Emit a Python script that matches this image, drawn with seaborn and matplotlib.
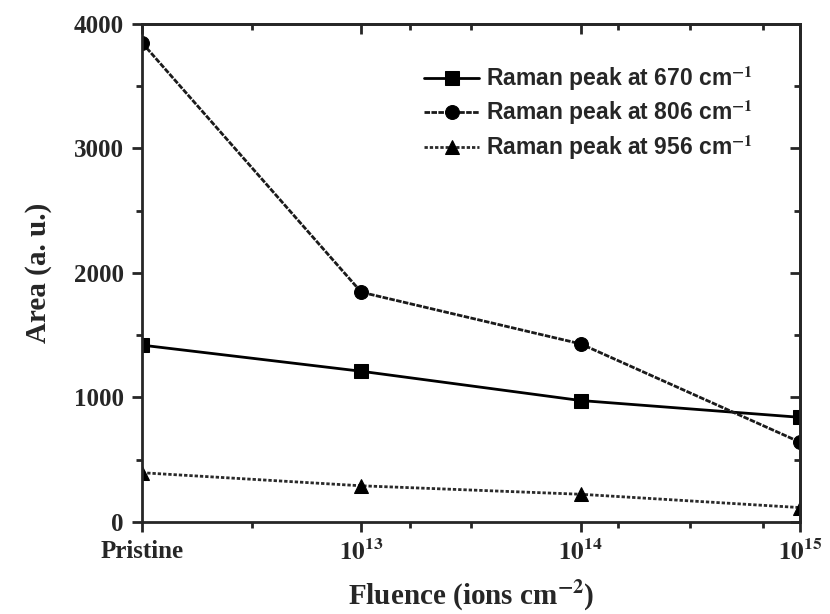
import pandas as pd
import seaborn as sns
import matplotlib.pyplot as plt
from matplotlib.ticker import MultipleLocator, FixedLocator, NullFormatter

fluence = ["Pristine", r"$\mathbf{10^{13}}$", r"$\mathbf{10^{14}}$", r"$\mathbf{10^{15}}$"]
peak_670 = [1420, 1210, 975, 840]
peak_806 = [3850, 1845, 1430, 640]
peak_956 = [395, 290, 222, 115]
series = [r"Raman peak at 670 cm$^{\mathbf{-1}}$",
          r"Raman peak at 806 cm$^{\mathbf{-1}}$",
          r"Raman peak at 956 cm$^{\mathbf{-1}}$"]


def build_frame():
    rows = []
    for name, vals in zip(series, [peak_670, peak_806, peak_956]):
        for i, v in enumerate(vals):
            rows.append({"x": i, "Area": v, "peak": name})
    return pd.DataFrame(rows)


def main():
    sns.set_theme(style="ticks")
    plt.rcParams['font.family'] = ['Liberation Serif', 'DejaVu Serif']
    plt.rcParams['mathtext.fontset'] = 'stix'

    data = build_frame()
    fig = plt.figure(figsize=(8.3, 6.14), dpi=100)
    ax = fig.add_axes([0.171, 0.150, 0.793, 0.811])

    markers = dict(zip(series, ["s", "o", "^"]))
    dashes = dict(zip(series, ["", (2, 0.5), (1.2, 0.7)]))
    palette = dict(zip(series, ["black", "#1a1a1a", "#2a2a2a"]))
    sns.lineplot(data=data, x="x", y="Area", hue="peak", style="peak",
                 markers=markers, dashes=dashes, palette=palette,
                 markersize=10, linewidth=2, markeredgecolor="black",
                 markerfacecolor="black", ax=ax)
    # markers at the frame edges are cut in half, as in the original
    for ln in ax.lines:
        ln.set_clip_on(True)
        ln.set_clip_path(ax.patch)

    ax.set_xlim(0, 3)
    ax.set_ylim(0, 4000)
    ax.xaxis.set_major_locator(FixedLocator([0, 1, 2, 3]))
    ax.set_xticklabels(fluence)
    minor_x = [0.5, 1.22, 1.5, 2.17, 2.5, 2.83]
    ax.xaxis.set_minor_locator(FixedLocator(minor_x))
    ax.yaxis.set_major_locator(MultipleLocator(1000))
    ax.yaxis.set_minor_locator(MultipleLocator(500))

    for lab in ax.get_xticklabels() + ax.get_yticklabels():
        lab.set_fontweight("bold")
        lab.set_fontsize(18)
    ax.tick_params(which="major", direction="out", length=7, width=2, pad=6)
    ax.tick_params(which="minor", direction="out", length=4, width=2)
    for s in ax.spines.values():
        s.set_linewidth(2)

    # inward ticks on top and right
    top = ax.secondary_xaxis("top")
    top.xaxis.set_major_locator(FixedLocator([0, 1, 2, 3]))
    top.xaxis.set_minor_locator(FixedLocator(minor_x))
    top.xaxis.set_major_formatter(NullFormatter())
    top.tick_params(which="major", direction="in", length=7, width=2)
    top.tick_params(which="minor", direction="in", length=4, width=2)
    right = ax.secondary_yaxis("right")
    right.yaxis.set_major_locator(MultipleLocator(1000))
    right.yaxis.set_minor_locator(MultipleLocator(500))
    right.yaxis.set_major_formatter(NullFormatter())
    right.tick_params(which="major", direction="in", length=7, width=2)
    right.tick_params(which="minor", direction="in", length=4, width=2)
    for sec in (top, right):
        for s in sec.spines.values():
            s.set_linewidth(2)

    ax.set_xlabel(r"Fluence (ions cm$^{\mathbf{-2}}$)", fontsize=21,
                  fontweight="bold", labelpad=10)
    ax.set_ylabel("Area (a. u.)", fontsize=21, fontweight="bold", labelpad=16)

    handles, labels = ax.get_legend_handles_labels()
    ax.legend(handles, labels, loc="upper right", frameon=False,
              prop={"family": "Liberation Sans", "weight": "bold", "size": 16.5},
              handlelength=2.4, handletextpad=0.3, labelspacing=0.28,
              bbox_to_anchor=(0.96, 0.96))

    plt.savefig("out.png", dpi=100)
    plt.close()


if __name__ == "__main__":
    main()
